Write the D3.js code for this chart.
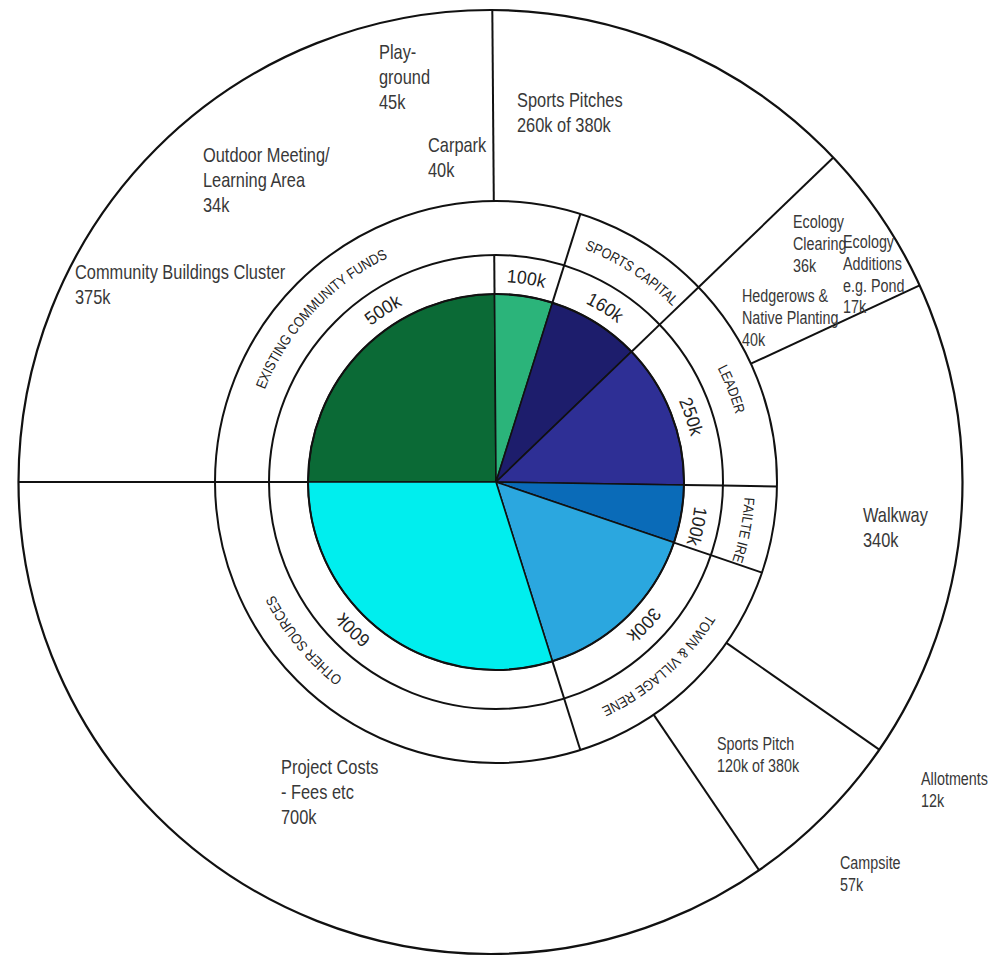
<!DOCTYPE html>
<html>
<head>
<meta charset="utf-8">
<script src="https://cdn.jsdelivr.net/npm/d3@7"></script>
<style>
  body { margin: 0; background: #fff; }
  svg text { font-family: "Liberation Sans", Arial, sans-serif; fill: #383838; }
</style>
</head>
<body>
<div id="chart"></div>
<script>
// funding pie, clockwise from 9 o'clock (k)
var fundAmounts = [500, 100, 160, 250, 100, 300, 600];
var fundLabels  = ["500k", "100k", "160k", "250k", "100k", "300k", "600k"];
var fundColors  = ["#0b6a36", "#2bb47a", "#1d1d6c", "#2e2f95", "#0a6bb8", "#2ba7df", "#00eeee"];

// funding sources ring (k)
var sourceNames   = ["EXISTING COMMUNITY FUNDS", "SPORTS CAPITAL", "LEADER", "FAILTE IRE", "TOWN & VILLAGE RENE", "OTHER SOURCES"];
var sourceAmounts = [600, 160, 250, 100, 300, 600];

// cost groups of the outer ring, arc size as drawn (k)
var costGroups = ["Community Buildings", "Sports Pitches", "Ecology", "Walkway", "Sports Pitch", "Project Costs"];
var costArcK   = [500, 260, 106, 334, 117, 693];

// cost item labels
var itemNames  = ["Play-\nground", "Carpark", "Outdoor Meeting/\nLearning Area", "Community Buildings Cluster",
                  "Sports Pitches", "Ecology\nClearing", "Ecology\nAdditions\ne.g. Pond", "Hedgerows &\nNative Planting",
                  "Walkway", "Sports Pitch", "Allotments", "Campsite", "Project Costs\n- Fees etc"];
var itemValues = ["45k", "40k", "34k", "375k", "260k of 380k", "36k", "17k", "40k", "340k", "120k of 380k", "12k", "57k", "700k"];

var width = 995, height = 961;
var cx = 496, cy = 482;
var rPie = 188, rVal = 227, rSrc = 281;
var outer = {x: 490.5, y: 482, r: 472};   // outer circle is drawn a bit off centre

var svg = d3.select("#chart").append("svg")
    .attr("width", width)
    .attr("height", height);

svg.append("rect").attr("width", width).attr("height", height).attr("fill", "#fff");

var g = svg.append("g").attr("transform", "translate(" + cx + "," + cy + ")");

var pie = d3.pie().sort(null).startAngle(-Math.PI / 2).endAngle(Math.PI * 1.5);
var fundArcs = pie(fundAmounts);
var srcArcs = pie(sourceAmounts);
var costArcs = pie(costArcK);

var arc = d3.arc().innerRadius(0).outerRadius(rPie);

g.selectAll("path.slice")
  .data(fundArcs)
  .enter().append("path")
    .attr("class", "slice")
    .attr("d", arc)
    .attr("fill", function(d, i) { return fundColors[i]; })
    .attr("stroke", "#111")
    .attr("stroke-width", 1.6);

function pt(a, r) { return [r * Math.sin(a), -r * Math.cos(a)]; }

// distance from the pie centre to the outer circle along angle a
function toOuter(a) {
  var dx = cx - outer.x, dy = cy - outer.y;
  var ux = Math.sin(a), uy = -Math.cos(a);
  var b = dx * ux + dy * uy;
  return -b + Math.sqrt(b * b - (dx * dx + dy * dy) + outer.r * outer.r);
}

// rings
[rPie, rVal, rSrc].forEach(function(r) {
  g.append("circle").attr("r", r).attr("fill", "none").attr("stroke", "#111").attr("stroke-width", 2);
});
svg.append("circle")
  .attr("cx", outer.x).attr("cy", outer.y).attr("r", outer.r)
  .attr("fill", "none").attr("stroke", "#111").attr("stroke-width", 2.2);

// radial dividers for each ring
function dividers(arcs, r0, r1) {
  arcs.forEach(function(d) {
    var a = d.startAngle;
    var e = (r1 === null) ? toOuter(a) : r1;
    var p0 = pt(a, r0), p1 = pt(a, e);
    g.append("line")
      .attr("x1", p0[0]).attr("y1", p0[1])
      .attr("x2", p1[0]).attr("y2", p1[1])
      .attr("stroke", "#111").attr("stroke-width", 2);
  });
}
dividers(fundArcs, rPie, rVal);
dividers(srcArcs, rVal, rSrc);
dividers(costArcs, rSrc, null);

// curved text, always running clockwise; squeeze < 1 narrows the glyphs
var deg = Math.PI / 180;
function arcText(id, label, angle, r, size, squeeze) {
  var a0 = angle - 60 * deg, a1 = angle + 60 * deg;
  var p0 = pt(a0, r), p1 = pt(a1, r);
  g.append("path")
    .attr("id", id)
    .attr("d", "M" + p0[0] + "," + p0[1] + " A" + r + "," + r + " 0 0 1 " + p1[0] + "," + p1[1])
    .attr("fill", "none");
  var t = g.append("text")
    .style("font-size", size + "px")
    .style("fill", "#222");
  var tp = t.append("textPath")
      .attr("href", "#" + id)
      .attr("startOffset", "50%")
      .attr("text-anchor", "middle")
      .text(label);
  if (squeeze < 1) {
    var len = t.node().getComputedTextLength();
    tp.attr("textLength", len * squeeze).attr("lengthAdjust", "spacingAndGlyphs");
  }
}

// label angles (deg) inside the rings
var fundLabelAt = [326.7, 8.5, 32, 71.5, 102.4, 134, 224];
var sourceLabelAt = [313, 33, 68.5, 101, 138.5, 230.5];

fundLabels.forEach(function(t, i) { arcText("v" + i, t, fundLabelAt[i] * deg, 200, 18.5, 0.95); });
sourceNames.forEach(function(t, i) { arcText("s" + i, t, sourceLabelAt[i] * deg, 249, 14.5, 0.86); });

// outer labels: x, first baseline, big/small
var itemPos = [
  [379, 59, 1], [428, 152, 1], [203, 162, 1], [75, 279, 1],
  [517, 107, 1], [793, 228, 0], [843, 248, 0], [742, 302, 0],
  [863, 522, 1], [717, 750, 0], [921, 785, 0], [840, 869, 0], [281, 774, 1]
];

// narrow look: squeeze the glyphs horizontally
itemNames.forEach(function(name, i) {
  var p = itemPos[i];
  var size = p[2] ? 20 : 17.5;
  var lh = p[2] ? 24.8 : 21.8;
  var lines = name.split("\n").concat([itemValues[i]]);
  var t = svg.append("text")
    .attr("transform", "translate(" + p[0] + "," + p[1] + ") scale(0.82,1)")
    .style("font-size", size + "px");
  lines.forEach(function(l, j) {
    t.append("tspan").attr("x", 0).attr("y", j * lh).text(l);
  });
});
</script>
</body>
</html>
